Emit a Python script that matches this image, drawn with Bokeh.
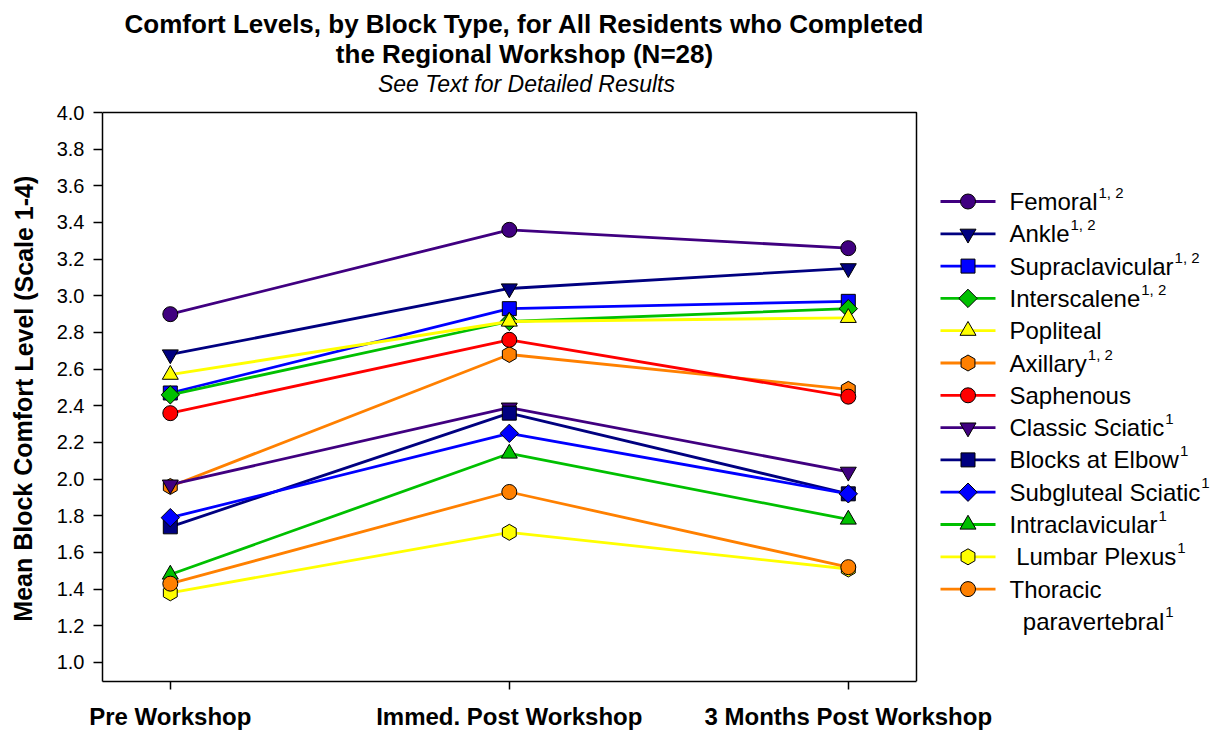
from bokeh.plotting import figure
from bokeh.layouts import row
from bokeh.models import FixedTicker, ColumnDataSource, NumeralTickFormatter, Range1d
from bokeh.core.properties import value
from bokeh.embed import file_html
from bokeh.resources import INLINE

# ---------------- data ----------------
phases = ["Pre Workshop", "Immed. Post Workshop", "3 Months Post Workshop"]

femoral = [2.90, 3.36, 3.26]
ankle = [2.68, 3.04, 3.15]
supraclavicular = [2.47, 2.93, 2.97]
interscalene = [2.46, 2.86, 2.93]
popliteal = [2.57, 2.86, 2.88]
axillary = [1.96, 2.68, 2.49]
saphenous = [2.36, 2.76, 2.45]
classic_sciatic = [1.97, 2.39, 2.04]
blocks_at_elbow = [1.74, 2.36, 1.92]
subgluteal_sciatic = [1.79, 2.25, 1.92]
intraclavicular = [1.48, 2.14, 1.78]
lumbar_plexus = [1.38, 1.71, 1.51]
thoracic_paravertebral = [1.43, 1.93, 1.52]

series_names = ["Femoral", "Ankle", "Supraclavicular", "Interscalene", "Popliteal",
                "Axillary", "Saphenous", "Classic Sciatic", "Blocks at Elbow",
                "Subgluteal Sciatic", "Intraclavicular", "\u00a0Lumbar Plexus", "Thoracic"]
series_notes = ["1, 2", "1, 2", "1, 2", "1, 2", "", "1, 2", "", "1", "1", "1", "1", "1", ""]
series_values = [femoral, ankle, supraclavicular, interscalene, popliteal, axillary,
                 saphenous, classic_sciatic, blocks_at_elbow, subgluteal_sciatic,
                 intraclavicular, lumbar_plexus, thoracic_paravertebral]
extra_line = "\u00a0\u00a0paravertebral"
extra_note = "1"

y_ticks = [1.0, 1.2, 1.4, 1.6, 1.8, 2.0, 2.2, 2.4, 2.6, 2.8, 3.0, 3.2, 3.4, 3.6, 3.8, 4.0]

title_lines = ["Comfort Levels, by Block Type, for All Residents who Completed",
               "the Regional Workshop (N=28)"]
subtitle = "See Text for Detailed Results"
y_title = "Mean Block Comfort Level (Scale 1-4)"

# ---------------- styles ----------------
PURPLE = "#400080"
NAVY = "#000080"
BLUE = "#0000FF"
GREEN = "#00C000"
YELLOW = "#FFFF00"
ORANGE = "#FF8000"
RED = "#FF0000"
colors = [PURPLE, NAVY, BLUE, GREEN, YELLOW, ORANGE, RED, PURPLE, NAVY, BLUE, GREEN, YELLOW, ORANGE]
markers = ["circle", "inverted_triangle", "square", "square", "triangle", "hex", "circle",
           "inverted_triangle", "square", "square", "triangle", "hex", "circle"]
angles = [0, 0, 0, 0.785398, 0, 1.570796, 0, 0, 0, 0.785398, 0, 1.570796, 0]
sizes = [15, 16, 14, 13, 16, 16, 15, 16, 14, 13, 16, 16, 15]

FONT = "Liberation Sans"
W, H = 1220, 732
STRIP_W = 40                 # narrow strip holding the y-axis title
FL, FB = 102, 681            # frame left / bottom pixel (whole page)
BOX_TOP_PX, BOX_RIGHT_PX = 112, 916
PPX, PPY = 339.0, 183.33     # pixels per category step / per unit
X0 = -0.2
YTOP_VAL = 4.0


def dx(px):
    return X0 + (px - FL) / PPX


def dy(py):
    return YTOP_VAL - (py - BOX_TOP_PX) / PPY


BOX_R = dx(BOX_RIGHT_PX)
Y0 = dy(FB)

# ---------------- y-axis title strip ----------------
strip = figure(width=STRIP_W, height=H, output_backend="svg", toolbar_location=None,
               x_range=Range1d(0, STRIP_W), y_range=Range1d(0, H),
               x_axis_location=None, y_axis_location=None,
               min_border_left=0, min_border_right=0, min_border_top=0, min_border_bottom=0)
strip.outline_line_color = None
strip.grid.visible = False
strip.background_fill_color = "white"
strip.border_fill_color = "white"
strip.text(x=[23], y=[H - 428], text=[y_title], angle=1.5707963,
           text_font=value(FONT), text_font_style="bold", text_font_size="25px",
           text_color="black", text_align="center", text_baseline="middle")

# ---------------- main chart ----------------
p = figure(width=W - STRIP_W, height=H, output_backend="svg", toolbar_location=None,
           x_range=Range1d(X0, dx(W)), y_range=Range1d(Y0, dy(0)),
           min_border_left=FL - STRIP_W, min_border_right=0,
           min_border_top=0, min_border_bottom=H - FB)
p.background_fill_color = "white"
p.border_fill_color = "white"
p.outline_line_color = None
p.grid.visible = False

# axes
p.xaxis.bounds = (X0, BOX_R)
p.xaxis.ticker = FixedTicker(ticks=[0, 1, 2])
p.xaxis.major_label_overrides = {i: phases[i] for i in range(3)}
p.xaxis.major_label_text_font = FONT
p.xaxis.major_label_text_font_style = "bold"
p.xaxis.major_label_text_font_size = "24px"
p.xaxis.major_label_text_color = "black"
p.xaxis.major_tick_out = 8
p.xaxis.major_tick_in = 0
p.xaxis.minor_tick_line_color = None
p.xaxis.major_label_standoff = 13
p.xaxis.axis_line_color = "black"
p.xaxis.axis_line_width = 1.5
p.xaxis.major_tick_line_width = 1.5

p.yaxis.bounds = (Y0, YTOP_VAL)
p.yaxis.ticker = FixedTicker(ticks=y_ticks)
p.yaxis.formatter = NumeralTickFormatter(format="0.0")
p.yaxis.major_label_text_font = FONT
p.yaxis.major_label_text_font_size = "20px"
p.yaxis.major_label_text_color = "black"
p.yaxis.major_tick_out = 9
p.yaxis.major_tick_in = 0
p.yaxis.minor_tick_line_color = None
p.yaxis.major_label_standoff = 9
p.yaxis.axis_line_color = "black"
p.yaxis.axis_line_width = 1.5
p.yaxis.major_tick_line_width = 1.5

# top and right sides of the plot box
p.line(x=[X0, BOX_R, BOX_R], y=[YTOP_VAL, YTOP_VAL, Y0], line_color="black", line_width=1.5)

# series
x_idx = [0, 1, 2]
for vals, c, m, a, s in zip(series_values, colors, markers, angles, sizes):
    src = ColumnDataSource(dict(x=x_idx, y=vals))
    p.line("x", "y", source=src, line_color=c, line_width=2.8)
    p.scatter("x", "y", source=src, marker=m, angle=a, size=s,
              fill_color=c, line_color="black", line_width=1)

# ---------------- legend (drawn in the right part of the canvas) ----------------
AW = {' ': 278, '\u00a0': 278, 'F': 611, 'e': 556, 'm': 833, 'o': 556, 'r': 333, 'a': 556,
      'l': 222, 'A': 667, 'n': 556, 'k': 500, 'S': 667, 'u': 556, 'p': 556, 'c': 500,
      'v': 500, 'i': 222, 'I': 278, 's': 500, 't': 278, 'P': 667, 'x': 500, 'y': 500,
      'h': 556, 'C': 722, 'B': 667, 'b': 556, 'w': 722, 'E': 667, 'g': 556, 'L': 556,
      'T': 611}


def text_w(t, fs):
    return sum(AW.get(ch, 556) for ch in t) * fs / 1000.0


LEG_FS = 24
ROW0, ROW_STEP = 201.0, 32.3
KEY_L, KEY_R, TXT_L = 940, 995, 1009
n = len(series_names)
row_px = [ROW0 + ROW_STEP * i for i in range(n + 1)]

leg = ColumnDataSource(dict(
    x0=[dx(KEY_L)] * n, x1=[dx(KEY_R)] * n, xm=[dx((KEY_L + KEY_R) / 2)] * n,
    y=[dy(r) for r in row_px[:n]], color=colors, marker=markers, angle=angles, size=sizes))
p.segment(x0="x0", x1="x1", y0="y", y1="y", line_color="color", line_width=2.8, source=leg)
p.scatter(x="xm", y="y", marker="marker", angle="angle", size="size", fill_color="color",
          line_color="black", line_width=1, source=leg)

all_names = series_names + [extra_line]
all_notes = series_notes + [extra_note]
p.text(x=[dx(TXT_L)] * (n + 1), y=[dy(r) for r in row_px], text=all_names,
       text_font=value(FONT), text_font_size=f"{LEG_FS}px", text_color="black",
       text_align="left", text_baseline="middle")

sx, sy, st = [], [], []
for nm, nt, r in zip(all_names, all_notes, row_px):
    if nt:
        sx.append(dx(TXT_L + text_w(nm, LEG_FS) + 1))
        sy.append(dy(r - 9))
        st.append(nt)
p.text(x=sx, y=sy, text=st, text_font=value(FONT), text_font_size="15px",
       text_color="black", text_align="left", text_baseline="middle")

# ---------------- titles ----------------
p.text(x=[dx(524), dx(524)], y=[dy(23), dy(53)], text=title_lines,
       text_font=value(FONT), text_font_style="bold", text_font_size="26px",
       text_color="black", text_align="center", text_baseline="middle")
p.text(x=[dx(526)], y=[dy(83)], text=[subtitle],
       text_font=value(FONT), text_font_style="italic", text_font_size="23px",
       text_color="black", text_align="center", text_baseline="middle")

layout = row(strip, p, spacing=0)
open("out.html", "w").write(file_html(layout, INLINE))
